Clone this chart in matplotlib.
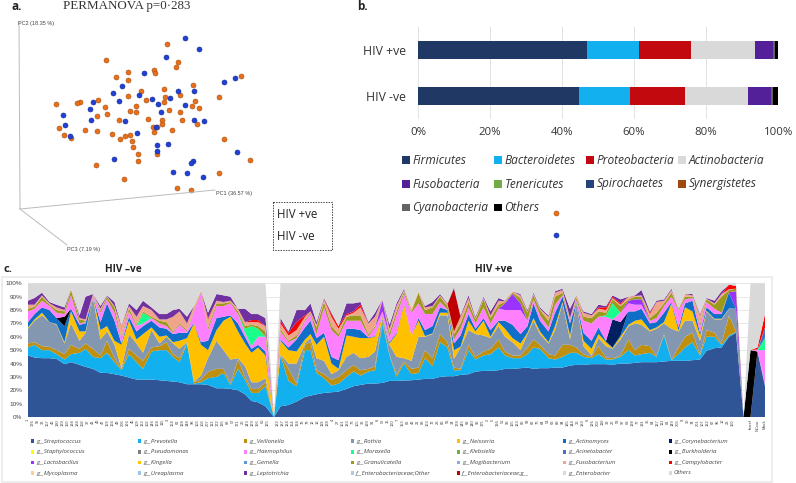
import matplotlib
matplotlib.use("Agg")
import matplotlib.pyplot as plt
from matplotlib.patches import Rectangle

W, H = 796, 483

# ---------- panel a: PCoA scores (PC-plane projection)
orange_x = [167,106,178,176,154,155,128,116,128,241,193,164,141,128,180,165,219,98,80,77,56,146,164,195,105,136,192,199,169,130,136,180,107,97,119,148,162,182,162,197,153,157,59,85,97,154,172,112,130,125,120,64,71,132,224,133,138,157,138,250,96,219,124,177,191]
orange_y = [44,60,62,67,70,73,72,77,80,76,85,89,91,96,95,97,97,100,102,103,104,100,102,101,107,106,106,108,110,111,112,112,114,116,120,119,120,120,124,124,127,127,128,130,131,132,130,134,135,136,139,135,138,141,139,147,154,154,161,160,165,173,179,188,190]
blue_x = [185,199,166,144,224,235,122,113,139,178,194,152,170,93,119,158,185,90,161,63,91,125,194,204,65,156,137,70,157,168,157,237,114,193,191,173,187,203]
blue_y = [38,49,57,73,82,78,86,93,95,91,91,99,98,102,101,104,105,109,112,115,120,121,120,121,125,127,133,136,145,144,151,152,159,161,163,172,173,177]

# ---------- panel b
phyla_names = ["Firmicutes","Bacteroidetes","Proteobacteria","Actinobacteria","Fusobacteria","Tenericutes","Spirochaetes","Synergistetes","Cyanobacteria","Others"]
phyla_colors = ["#1F3864","#13B0F0","#C20A0E","#D9D9D9","#54209A","#70AD47","#264478","#9E480E","#636363","#000000"]
hiv_pos = [47.0,14.2,14.5,17.9,5.0,0.0,0.0,0.0,0.5,0.9]
hiv_neg = [44.7,14.2,15.1,17.6,6.5,0.0,0.0,0.0,0.5,1.4]
group_labels = ["HIV +ve","HIV -ve"]

# ---------- panel c: sample positions and cumulative layer tops (%)
samples = [0,1.3,2.8,4.3,5.7,7.3,8.6,10.3,11.5,13,14.5,15.8,17.3,18.7,20.2,21.7,23,24.7,26.3,27.7,29,30.3,31.8,33.2,34.6,36,37.7,39.1,40.5,42,43.4,44.7,46,47.5,49.2,
 50.5,52.1,53.7,55.4,56.5,57.7,59.2,60.7,62.1,63.7,65.1,66.5,68.1,69.4,70.9,72.3,73.7,75.2,76.7,78.1,79.4,80.9,82.4,83.9,85.2,86.5,88.1,89.5,91.1,92.5,94.1,95.4,96.9,98.5,99.9,
 101.1,102.4,104.1,105.4,106.9,108.4,109.7,111.1,112.7,114.1,115.6,116.9,118.5,120.1,121.4,122.7,124.4,125.7,127.2,128.7,130.1,131.4,132.9,134.4,135.7,137.3,138.7,140.2,141.6,143.1,144.5,145.9,147.4]
empty_samples = [49.2, 143.1]

strep_top = [46,44.5,44,44,43.5,39.5,41,39,37.5,36,33,33,32,31,29.5,28,28,28,27.5,27,26.5,26,24.5,24.5,24.5,24,21.5,21.5,21,20,17,12,11,8,0,
 8,9,11.5,15,16,17,18,18.5,19,21,23,24,25,25,25.5,27,27,27.3,27.5,28,28.5,28.5,30,30.5,30.5,31.5,32,34,34.5,34.5,35,36,36,36.5,37,
 36,36.5,36.5,37,37,38.5,39,39,39.5,39.5,39.5,39,40,40,40.5,41,41,41,41.5,42,42,42,42.5,43,49.5,51.5,52,60,63,0,0,49,23]
prev_top = [52,54,50,50,47,43,47,48,51,45,44,48,41,35,47,41,36,49,50,50,45,41,55,25,26,29,30,33,24,36,28,18,18,23,0,
 46,27,23,50,50,33,29,23.5,25,30,34,31,34,35,70,46,30,40,32,33,44,38,56,52,35,35,50,43,46,47,52,46,44,44,47,
 52,51,44,43,45,48,48,45,44,47,43,43,45,50,46,47,48,45,61,42.5,47,52,56,46,60,60,54,61,63.5,0,0,49,24]
veil_top = [55,56,53,52.5,50,47,54,51,55,51,46,57,44,36,51,46,42,52,53,56,47,44,55.5,26,28,34,36,36,25,43,30,21,21,26,0,
 46.5,36,25,54,56,35,32,28,30,35,39,35,36,38,72,46.5,32,41.5,36,37,50,44,62,56,37,36,54,45,49,51,58,49,46,46,52,
 58,54,47,46,54,54,52,47,45,53,44.5,44,46,58,50,54,53,45.5,62,43,52,60,63,47,65,63,55,76,64,0,0,49,24]
rothia_top = [66,72,76,71,69,55,70,57,63,89,58,64,54,36.5,62,55,48,65,55,60,55,51,56,26.5,31,44,57,50,43,44,38,26,26,29,0,
 47,40,40,55,59,44,42,32,35,45,48,44,45,49,74,54,45,44,42,60,60,62,76,76,43.5,52,65,62,61,59,68,60,56,50,62,
 72,62,55,65,85,58,85,53,46,59,53,51,58,68,70,69,64,66,70,66,64,72,72,57,79,73,73,81,81,0,0,49,24.5]
neis_top = [67,73,78,71,69.5,56,79,64,64,90,65,68,57,54,72,58,62,67,60,61,56,57,59,70,54,50,65,72,75,64,55,48,52,46,0,
 57,50,49,58,62,54,60,40,36,61,60,59,59,60,75,55,62,84,61,72,60.5,62.5,78,78,50,52.5,72,64,72,60,71,66,59,55,63,
 74,64,56,68,86,61,85.5,57,51,62,56,51.5,60,69,72,73,65,67,71,85,64.5,82,79,61,79.5,73.5,73.5,81.2,81,0,0,49,24.5]
actin_top = [71,77,82,80,74,68,81,69,70,90,71,85,72,55,75,64,68,72,67,66,62,63,63,70.5,56,57,74,75,76,70,60,51,54,49,0,
 58,52,58,67,72,59,63,45,42.5,66,66,65,59.5,60.5,75.5,56,63,85,61,74,65,68,82,80,55,61,77,66,74,65,72,72,69,62,68,
 85,72,64,78,90,70,86,63,57,67,56.5,52,61,79,79,81,70,71,78,86,67,85,87,63,82,77,77,93,81,0,0,49,24.5]
pink_top = [79,81,87,83,78,77,91,70,71,91,78,88,78,59,79,68,78,74,70,68,63,69,64,79,93,65,83,83,85,77,66,68,66,60,0,
 64,56,59,72,77,62,82,65,60,72,72,72,60.5,67,87,60,76,92,78,85,77,77,86,80.5,58,66,82,70,82,70,81,85,92,85,72,
 88,76,67,84,91,72,87,72,70,75,76,85,78,87,88,88,72,74,83,90,80,88,89,68,86,81,78,93.5,94,0,50,50,67]
olive_top = [81,82.5,90,84,80,79,95,73,72,91.5,79.5,90,82,60,81.5,69,79,75,72,71,64,70,65,80,94,67,85,85,86,79,68,69,68,64,0,
 66,57,61,73,78,67,86,68,62,75,76,76,62,68,87.5,63,79,94,79,93,80,82,90,83,62,70,86,73,88,74,84,86,93,89,78,
 91,80,72,90,93,73,89,75,74,79,78,88,83,88,90,90,74,78,85,93,81,90,90,70,88,84,90,95,96,0,50,50,67]
salmon_top = [84,84,91,85,82,80,96,74,73,92,81,90.5,83,68,83,75,83,80,73,73,75,79,70,83,94.5,73,87,86,87,81,71,71,71,68,0,
 70,61,65,75,79,69,88,75,66,76,78,82,70,75,88,66,83,95,81,94,82,83,91,84.5,64,75,89,74,89,76,87,86.5,94,91,79,
 92,81,75,93,95,74,91,78,76,81,80,89,84,90,90.5,91,77,86,87,95,81,92,91,76,88.5,85,92,95.5,96,0,50,50.5,67]
purple_top = [87,89,93,86,84,82,96,76,90,92,83,91,86,68.5,85,80,87,82,77,77,80,81,75,83,94.5,78,92,91,90,81,81,77,77,74,0,
 74,64,80,80,85,71,89,78,68,85,85,86,71,78,88,69,85,96,81,94,83,86,92,85,97,76,91,75,90,79,89,87,94,92,80,
 93,82,76,94,96,81,91,79,77,84,83,91,88,90,91,95,79,87,88,96,81,92,92,77,89,87,94,99,98,0,50,52,77]

# rare taxa: {sample: thickness}; first group sits inside the pink band, second under the purple band
coryne = {115.6:0.5, 116.9:21, 118.5:10}
moraxella = {23:8, 43.4:3, 44.7:15, 46:6, 115.6:1, 116.9:12, 147.4:9}
burkholderia = {7.3:7, 144.5:50}
acinetobacter = {147.4:8}
lactobacillus = {70.9:8, 95.4:5, 96.9:12, 98.5:5, 120.1:2, 121.4:4, 122.7:4, 140.2:0.5, 141.6:13}
campylobacter = {36:1, 44.7:1.5, 46:1.5, 50.5:2, 52.1:2, 53.7:6, 55.4:1, 60.7:2, 62.1:2, 63.7:1, 65.1:1, 66.5:2, 114.1:1, 115.6:2, 116.9:1, 118.5:1, 124.4:1, 140.2:3.5, 141.6:2, 145.9:1.5, 147.4:10}
entero_g = {85.2:32}

neg_ticks = ["1","176","55","33","167","46","190","139","150","194","184","158","37","41","40","47","159","166","49","206","196","45","109","132","102","146","168","115","3","164","61","128","148","98","103","108","207","113","172","135","88","57","171","26","143","129","156","60","125"]
pos_ticks = ["182","187","124","154","134","78","79","12","18","119","138","4","27","101","133","73","105","32","199","91","8","52","15","160","7","153","62","43","21","83","163","72","28","86","56","34","178","145","69","140","92","175","2","5","136","51","93","155","123","66","59","82","76","84","54","63","89","94","185","144","36","183","6","126","202","110","39","22","58","97","68","198","77","191","35","64","127","111","81","149","203","9","30","74","201","107","122","67","96","10","23","150"]
last_ticks = ["foxref","NCcur","Mock"]

genus_rows = [["g__Streptococcus","g__Prevotella","g__Veillonella","g__Rothia","g__Neisseria","g__Actinomyces","g__Corynebacterium"],
              ["g__Staphylococcus","g__Pseudomonas","g__Haemophilus","g__Moraxella","g__Klebsiella","g__Acinetobacter","g__Burkholderia"],
              ["g__Lactobacillus","g__Kingella","g__Gemella","g__Granulicatella","g__Mogibacterium","g__Fusobacterium","g__Campylobacter"],
              ["g__Mycoplasma","g__Ureaplasma","g__Leptotrichia","f__Enterobacteriaceae;Other","f__Enterobacteriaceae;g__","g__Enterobacter","Others"]]
genus_cols = [["#2F5597","#13B0F0","#BF9010","#8497B0","#FFC000","#0F6FC6","#002060"],
              ["#FFFF00","#7F7F7F","#FF80FF","#1AFF8C","#70AD47","#4472C4","#000000"],
              ["#9933FF","#FFC000","#5B9BD5","#9C9A1A","#8FAADC","#F0A58A","#FF0000"],
              ["#FFCC99","#9DC3E6","#7030A0","#B4C7E7","#C00000","#D9D9D9","#D9D9D9"]]

fig = plt.figure(figsize=(W/100, H/100), dpi=100)

def px_axes(l, t, r, b):
    return fig.add_axes([l/W, 1-b/H, (r-l)/W, (b-t)/H])

# overlay in pixel coordinates for page furniture
ov = fig.add_axes([0,0,1,1], zorder=5)
ov.set_xlim(0, W); ov.set_ylim(H, 0); ov.axis("off"); ov.patch.set_alpha(0)

# ---- panel a
ov.text(11, 7, "a.", fontsize=8.5, fontweight="bold", family="Open Sans", va="center", color="#222222")
ov.text(63, 6, "PERMANOVA p=0·283", fontsize=9.4, family="Liberation Serif", va="center", color="#333333")
for xs, ys in (([19,20],[22,209]), ([20,215],[209,190]), ([20,67],[209,245])):
    ov.plot(xs, ys, color="#BBBBBB", lw=0.7)
lab = dict(fontsize=4.0, family="Liberation Sans", color="#444444", va="center")
ov.text(18, 23, "PC2 (18.35 %)", **lab)
ov.text(216, 194, "PC1 (36.57 %)", **lab)
ov.text(67, 249.5, "PC3 (7.19 %)", **lab)
ov.scatter(orange_x, orange_y, s=13, color="#E8701A", edgecolors="#A84E10", linewidths=0.4)
ov.scatter(blue_x, blue_y, s=13, color="#2040D8", edgecolors="#152C90", linewidths=0.4)
ov.add_patch(Rectangle((273,202), 59, 48, fill=False, ec="#444444", lw=0.7, ls=(0,(1.5,1.2))))
ov.text(277, 214, group_labels[0], fontsize=8.3, family="Open Sans", va="center", color="#222222")
ov.text(277, 236, group_labels[1], fontsize=8.3, family="Open Sans", va="center", color="#222222")

# ---- panel b
axb = px_axes(418, 27, 778.3, 119)
left_p = left_n = 0
for name, col, vp, vn in zip(phyla_names, phyla_colors, hiv_pos, hiv_neg):
    axb.barh([1], [vp], left=left_p, height=0.405, color=col, zorder=3)
    axb.barh([0], [vn], left=left_n, height=0.405, color=col, zorder=3)
    left_p += vp; left_n += vn
axb.set_xlim(0, 100); axb.set_ylim(-0.5, 1.5)
axb.set_yticks([1, 0]); axb.set_yticklabels(group_labels, fontsize=8.8, family="Open Sans", color="#333333")
axb.set_xticks(range(0, 101, 20)); axb.set_xticklabels([f"{v}%" for v in range(0, 101, 20)], fontsize=8.2, family="Open Sans", color="#333333")
axb.tick_params(length=0, pad=6)
axb.tick_params(axis="y", pad=8.6)
axb.grid(axis="x", color="#E2E2E2", lw=0.7, zorder=0)
for s in axb.spines.values():
    s.set_visible(False)
ov.text(357, 7, "b.", fontsize=8.5, fontweight="bold", family="Open Sans", va="center", color="#222222")
leg_x = [402, 494, 586, 678]
leg_y = [160, 184, 207.5]
for i, (name, col) in enumerate(zip(phyla_names, phyla_colors)):
    x = leg_x[i % 4]; y = leg_y[i // 4]
    ov.add_patch(Rectangle((x, y-4), 7.5, 7.5, color=col, lw=0))
    ov.text(x+10.5, y, name, fontsize=8.6, style="italic", family="Open Sans", va="center", color="#333333")
ov.scatter([556], [213], s=13, color="#E8701A", edgecolors="#A84E10", linewidths=0.4)
ov.scatter([556], [235], s=13, color="#2040D8", edgecolors="#152C90", linewidths=0.4)

# ---- panel c
ov.add_patch(Rectangle((2, 277), 770, 205, fill=False, ec="#E8E8E8", lw=1.1))
ov.text(3, 270, "c.", fontsize=8, fontweight="bold", family="Open Sans", va="center", color="#222222")
ov.text(123, 270, "HIV –ve", fontsize=7.2, fontweight="bold", family="Open Sans", va="center", ha="center", color="#222222")
ov.text(494, 270, "HIV +ve", fontsize=7.2, fontweight="bold", family="Open Sans", va="center", ha="center", color="#222222")

axc = px_axes(28, 283.3, 765, 417)

def band(upper, lower, *parts):
    out = []
    for s, u, l in zip(samples, upper, lower):
        out.append(max(u - l - sum(p.get(s, 0) for p in parts), 0))
    return out

def pick(d):
    return [d.get(s, 0) for s in samples]

others = [0 if s in empty_samples else 100 - t for s, t in zip(samples, purple_top)]
layers = [strep_top, band(prev_top, strep_top), band(veil_top, prev_top), band(rothia_top, veil_top),
          band(neis_top, rothia_top), band(actin_top, neis_top), pick(coryne), pick(burkholderia),
          band(pink_top, actin_top, coryne, burkholderia, moraxella, acinetobacter, lactobacillus),
          pick(moraxella), pick(acinetobacter), pick(lactobacillus), band(olive_top, pink_top),
          band(salmon_top, olive_top), pick(campylobacter), pick(entero_g),
          band(purple_top, salmon_top, campylobacter, entero_g), others]
colors = ["#2F5597","#13B0F0","#BF9010","#8497B0","#FFC000","#0F6FC6","#002060","#000000","#FF80FF","#1AFF8C","#4472C4","#9933FF","#9C9A1A","#F0A58A","#FF0000","#C00000","#7030A0","#D9D9D9"]
axc.stackplot(samples, layers, colors=colors, linewidth=0, zorder=3)
axc.set_xlim(0, 147.4); axc.set_ylim(0, 100)
axc.set_yticks(range(0, 101, 10)); axc.set_yticklabels([f"{v}%" for v in range(0, 101, 10)], fontsize=4.6, family="Liberation Sans", color="#444444")
axc.tick_params(axis="y", length=0, pad=4)
axc.grid(axis="y", color="#E4E4E4", lw=0.6, zorder=0)
tick_pos = list(range(49)) + list(range(50, 142)) + [144.5, 145.9, 147.4]
axc.set_xticks(tick_pos)
axc.set_xticklabels(neg_ticks + pos_ticks + last_ticks, rotation=90, fontsize=2.9, family="Liberation Sans", color="#444444")
axc.tick_params(axis="x", length=0, pad=1.5)
for s in axc.spines.values():
    s.set_visible(False)

col_x = [31, 138, 244, 351, 457, 563, 669]
row_y = [441, 452, 462.7, 473]
for r, (names, cols) in enumerate(zip(genus_rows, genus_cols)):
    for x, name, col in zip(col_x, names, cols):
        ov.add_patch(Rectangle((x, row_y[r]-1.7), 3.4, 3.4, color=col, lw=0))
        ov.text(x+5, row_y[r], name, fontsize=4.3, style="italic", family="Open Sans", va="center", color="#444444")

fig.savefig("out.png", dpi=100)
